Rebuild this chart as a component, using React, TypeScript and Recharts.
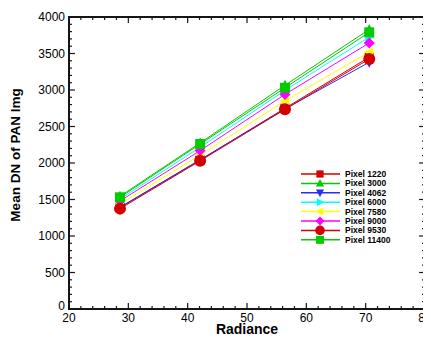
import { LineChart, Line, XAxis, YAxis, Legend, ReferenceArea, ReferenceLine } from "recharts"

const radiance = [28.6, 42.1, 56.4, 70.6]
const pixel1220 = [1390, 2040, 2750, 3450]
const pixel3000 = [1545, 2275, 3065, 3830]
const pixel4062 = [1395, 2045, 2740, 3380]
const pixel6000 = [1505, 2215, 2995, 3725]
const pixel7580 = [1440, 2110, 2850, 3520]
const pixel9000 = [1480, 2170, 2940, 3645]
const pixel9530 = [1375, 2030, 2735, 3425]
const pixel11400 = [1530, 2260, 3030, 3790]

const series = [
    { key: "p1220", name: "Pixel 1220", values: pixel1220, color: "#d40000", shape: "square", size: 9 },
    { key: "p3000", name: "Pixel 3000", values: pixel3000, color: "#00cc00", shape: "up", size: 10 },
    { key: "p4062", name: "Pixel 4062", values: pixel4062, color: "#2a2aff", shape: "down", size: 10 },
    { key: "p6000", name: "Pixel 6000", values: pixel6000, color: "#00ffff", shape: "right", size: 10 },
    { key: "p7580", name: "Pixel 7580", values: pixel7580, color: "#ffff00", shape: "left", size: 10 },
    { key: "p9000", name: "Pixel 9000", values: pixel9000, color: "#ff00ff", shape: "diamond", size: 11 },
    { key: "p9530", name: "Pixel 9530", values: pixel9530, color: "#d40000", shape: "circle", size: 12 },
    { key: "p11400", name: "Pixel 11400", values: pixel11400, color: "#00cc00", shape: "square", size: 10 },
]

const data = radiance.map((r, i) => {
    const row: Record<string, number> = { radiance: r }
    series.forEach((s) => { row[s.key] = s.values[i] })
    return row
})

// major labels every 10 / 500, minor ticks every 2 / 100
const xAll: number[] = []
for (let v = 20; v <= 80; v += 2) xAll.push(v)
const yAll: number[] = []
for (let v = 0; v <= 4000; v += 100) yAll.push(v)

// tick lengths in axis units (about 6px / 3px on this plot)
const xTickLen = { major: 82, minor: 41 }
const yTickLen = { major: 1.0, minor: 0.5 }

const font = "Arial, 'Liberation Sans', sans-serif"
const ink = "#151515"

function Marker({ shape, color, size, cx, cy }: any) {
    const h = size / 2
    switch (shape) {
        case "square":
            return <rect x={cx - h} y={cy - h} width={size} height={size} fill={color} />
        case "up":
            return <polygon points={`${cx},${cy - h * 1.1} ${cx - h},${cy + h * 0.8} ${cx + h},${cy + h * 0.8}`} fill={color} />
        case "down":
            return <polygon points={`${cx},${cy + h * 1.1} ${cx - h},${cy - h * 0.8} ${cx + h},${cy - h * 0.8}`} fill={color} />
        case "right":
            return <polygon points={`${cx + h * 1.1},${cy} ${cx - h * 0.8},${cy - h} ${cx - h * 0.8},${cy + h}`} fill={color} />
        case "left":
            return <polygon points={`${cx - h * 1.1},${cy} ${cx + h * 0.8},${cy - h} ${cx + h * 0.8},${cy + h}`} fill={color} />
        case "diamond":
            return <polygon points={`${cx},${cy - h} ${cx + h},${cy} ${cx},${cy + h} ${cx - h},${cy}`} fill={color} />
        default:
            return <circle cx={cx} cy={cy} r={h} fill={color} />
    }
}

const bottomTick = (p: any) => {
    const { x, y, payload } = p
    if (payload.value % 10 !== 0) return <g key={`bx-${payload.value}`} />
    return (
        <text key={`bx-${payload.value}`} x={x} y={y + 13} textAnchor="middle" fontSize={12} fontFamily={font} fill="#000">
            {payload.value}
        </text>
    )
}

const leftTick = (p: any) => {
    const { x, y, payload } = p
    if (payload.value % 500 !== 0) return <g key={`ly-${payload.value}`} />
    return (
        <text key={`ly-${payload.value}`} x={x - 4} y={payload.value === 0 ? y + 1 : y + 4} textAnchor="end" fontSize={12} fontFamily={font} fill="#000">
            {payload.value}
        </text>
    )
}

function tickLines() {
    const out: any[] = []
    const line = { stroke: ink, strokeWidth: 1.2 }
    xAll.forEach((v) => {
        const len = v % 10 === 0 ? xTickLen.major : xTickLen.minor
        out.push(<ReferenceLine key={`xb${v}`} segment={[{ x: v, y: 0 }, { x: v, y: len }]} {...line} />)
        out.push(<ReferenceLine key={`xt${v}`} segment={[{ x: v, y: 4000 }, { x: v, y: 4000 - len }]} {...line} />)
    })
    yAll.forEach((v) => {
        const len = v % 500 === 0 ? yTickLen.major : yTickLen.minor
        out.push(<ReferenceLine key={`yl${v}`} segment={[{ x: 20, y: v }, { x: 20 + len, y: v }]} {...line} />)
        out.push(<ReferenceLine key={`yr${v}`} segment={[{ x: 80, y: v }, { x: 80 - len, y: v }]} {...line} />)
    })
    return out
}

function LegendBox() {
    return (
        <svg width={125} height={80}>
            {series.map((s, i) => {
                const cy = 6 + i * 9.4
                return (
                    <g key={s.key}>
                        <line x1={0} y1={cy} x2={39} y2={cy} stroke={s.color} strokeWidth={1.5} />
                        <Marker shape={s.shape} color={s.color} size={s.size * 0.8} cx={19} cy={cy} />
                        <text x={44} y={cy + 3} fontSize={8.5} fontWeight="bold" fontFamily={font} fill="#000">
                            {s.name}
                        </text>
                    </g>
                )
            })}
        </svg>
    )
}

export default function App() {
    return (
        <LineChart width={423} height={328} data={data} margin={{ top: 9, right: 6, left: 0, bottom: 0 }}>
            <XAxis
                dataKey="radiance"
                type="number"
                domain={[20, 80]}
                ticks={xAll}
                interval={0}
                tickSize={0}
                tickMargin={0}
                tickLine={false}
                height={27}
                axisLine={{ stroke: ink, strokeWidth: 2 }}
                tick={bottomTick}
                label={{
                    content: ({ viewBox }: any) => (
                        <text x={viewBox.x + viewBox.width / 2} y={viewBox.y + 25} textAnchor="middle" fontSize={14} fontWeight="bold" fontFamily={font} fill="#000">
                            Radiance
                        </text>
                    ),
                }}
            />
            <YAxis
                type="number"
                domain={[0, 4000]}
                ticks={yAll}
                interval={0}
                tickSize={0}
                tickMargin={0}
                tickLine={false}
                width={61}
                axisLine={{ stroke: ink, strokeWidth: 2 }}
                tick={leftTick}
                label={{
                    content: ({ viewBox }: any) => {
                        const cx = 7
                        const cy = viewBox.y + viewBox.height / 2 - 8
                        return (
                            <text x={cx} y={cy} transform={`rotate(-90 ${cx} ${cy})`} textAnchor="middle" dominantBaseline="central" fontSize={13.5} fontWeight="bold" fontFamily={font} fill="#000">
                                Mean DN of PAN Img
                            </text>
                        )
                    },
                }}
            />
            <ReferenceArea x1={20} x2={80} y1={0} y2={4000} fill="#ffffff" fillOpacity={0} stroke={ink} strokeWidth={2} />
            {tickLines()}
            <Legend
                layout="vertical"
                align="center"
                verticalAlign="middle"
                content={() => <LegendBox />}
                wrapperStyle={{ left: 293, top: 160, width: 125, height: 80 }}
            />
            {series.map((s) => (
                <Line
                    key={s.key}
                    dataKey={s.key}
                    name={s.name}
                    type="linear"
                    stroke={s.color}
                    strokeWidth={1}
                    isAnimationActive={false}
                    activeDot={false}
                    dot={(p: any) => (
                        <Marker key={`${s.key}-${p.index}`} shape={s.shape} color={s.color} size={s.size} cx={p.cx} cy={p.cy} />
                    )}
                />
            ))}
        </LineChart>
    )
}
